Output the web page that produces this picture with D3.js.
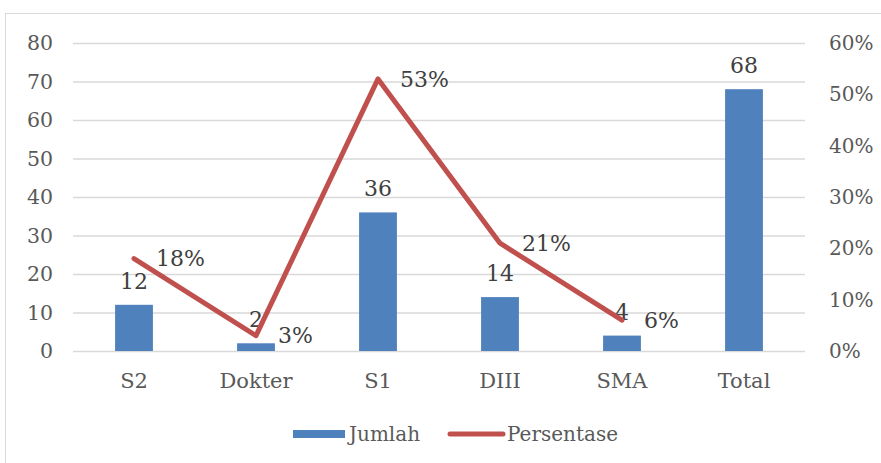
<!DOCTYPE html>
<html>
<head>
<meta charset="utf-8">
<script src="https://cdn.jsdelivr.net/npm/d3@7"></script>
<style>
  body { margin: 0; background: #fff; }
  text { font-family: "DejaVu Serif", serif; fill: #595959; }
</style>
</head>
<body>
<script>
let categories = ["S2", "Dokter", "S1", "DIII", "SMA", "Total"];
let jumlah = [12, 2, 36, 14, 4, 68];
let persenCats = ["S2", "Dokter", "S1", "DIII", "SMA"];
let persentase = [0.18, 0.03, 0.53, 0.21, 0.06];
let leftTicks = [0, 10, 20, 30, 40, 50, 60, 70, 80];
let rightTicks = [0, 0.1, 0.2, 0.3, 0.4, 0.5, 0.6];

function main() {
    let svg = d3.select("body").append("svg")
        .attr("width", 881)
        .attr("height", 463);

    // chart frame
    svg.append("rect")
        .attr("x", 5.5).attr("y", 13.5)
        .attr("width", 900).attr("height", 500)
        .attr("fill", "none")
        .attr("stroke", "#d9d9d9");

    let x = d3.scaleBand().domain(categories).range([73, 805])
        .paddingInner(0.69).paddingOuter(0.345);
    let y = d3.scaleLinear().domain([0, 80]).range([351, 43]);
    let y2 = d3.scaleLinear().domain([0, 0.6]).range([351, 43]);

    // gridlines
    svg.append("g")
        .attr("transform", "translate(73,0)")
        .call(d3.axisLeft(y).tickValues(leftTicks).tickSize(-732).tickFormat(""))
        .call(g => g.select(".domain").remove())
        .call(g => g.selectAll("line").attr("stroke", "#d9d9d9").attr("stroke-width", 1.5));

    // left axis labels
    svg.append("g")
        .attr("transform", "translate(53,0)")
        .call(d3.axisLeft(y).tickValues(leftTicks).tickSize(0).tickPadding(0))
        .call(g => g.select(".domain").remove())
        .call(g => g.selectAll("text").style("font-size", "20.5px").attr("fill", "#595959"));

    // right axis labels
    svg.append("g")
        .attr("transform", "translate(829,0)")
        .call(d3.axisRight(y2).tickValues(rightTicks).tickSize(0).tickPadding(0).tickFormat(d3.format(".0%")))
        .call(g => g.select(".domain").remove())
        .call(g => g.selectAll("text").style("font-size", "20px").attr("fill", "#595959"));

    // category labels
    svg.append("g")
        .attr("transform", "translate(0,373)")
        .call(d3.axisBottom(x).tickSize(0).tickPadding(0))
        .call(g => g.select(".domain").remove())
        .call(g => g.selectAll("text").style("font-size", "21px").attr("fill", "#595959"));

    // bars
    svg.selectAll("rect.bar")
        .data(categories)
        .enter().append("rect")
        .attr("class", "bar")
        .attr("x", d => x(d))
        .attr("y", (d, i) => y(jumlah[i]))
        .attr("width", x.bandwidth())
        .attr("height", (d, i) => y(0) - y(jumlah[i]))
        .attr("fill", "#4f81bd");

    // bar labels
    svg.selectAll("text.blabel")
        .data(categories)
        .enter().append("text")
        .attr("class", "blabel")
        .attr("x", d => x(d) + x.bandwidth() / 2)
        .attr("y", (d, i) => y(jumlah[i]) - 16)
        .attr("text-anchor", "middle")
        .style("font-size", "22px")
        .style("fill", "#404040")
        .text((d, i) => jumlah[i]);

    // line
    let line = d3.line()
        .x(d => x(d[0]) + x.bandwidth() / 2)
        .y(d => y2(d[1]));
    svg.append("path")
        .datum(persenCats.map((c, i) => [c, persentase[i]]))
        .attr("d", line)
        .attr("fill", "none")
        .attr("stroke", "#c0504d")
        .attr("stroke-width", 5)
        .attr("stroke-linecap", "round")
        .attr("stroke-linejoin", "round");

    // line labels
    svg.selectAll("text.plabel")
        .data(persenCats)
        .enter().append("text")
        .attr("class", "plabel")
        .attr("x", d => x(d) + x.bandwidth() / 2 + 22)
        .attr("y", (d, i) => y2(persentase[i]))
        .attr("dy", "0.35em")
        .style("font-size", "22px")
        .style("fill", "#404040")
        .text((d, i) => d3.format(".0%")(persentase[i]));

    // legend
    let legend = svg.append("g").attr("transform", "translate(293,434)");
    legend.append("rect")
        .attr("x", 0).attr("y", -4)
        .attr("width", 52).attr("height", 8)
        .attr("fill", "#4f81bd");
    legend.append("text")
        .attr("x", 56).attr("y", 0).attr("dy", "0.35em")
        .style("font-size", "20px")
        .text("Jumlah");
    legend.append("line")
        .attr("x1", 157).attr("x2", 210)
        .attr("y1", 0).attr("y2", 0)
        .attr("stroke", "#c0504d")
        .attr("stroke-width", 5)
        .attr("stroke-linecap", "round");
    legend.append("text")
        .attr("x", 214).attr("y", 0).attr("dy", "0.35em")
        .style("font-size", "20px")
        .text("Persentase");
}

main()
</script>
</body>
</html>
